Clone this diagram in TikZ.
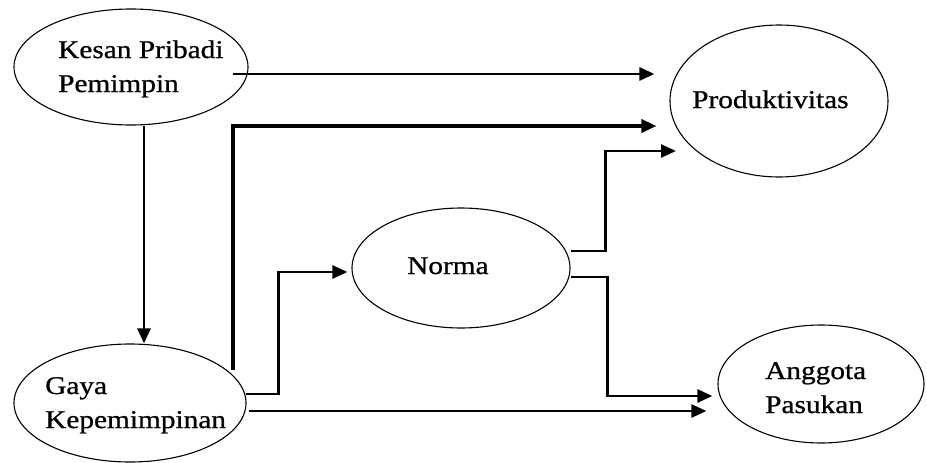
\documentclass[tikz,border=0pt]{standalone}
\usepackage{fontspec}
\setmainfont{Liberation Serif}[FakeStretch=1.15,FakeBold=0.8]
\usetikzlibrary{arrows.meta,shapes.geometric}
\begin{document}
\begin{tikzpicture}[x=1pt,y=-1pt,
  oval/.style={draw=black,line width=1.1pt,ellipse,inner sep=0pt},
  lbl/.style={inner sep=0pt,anchor=base west,align=left,font=\fontsize{25.5}{34}\selectfont},
  arr/.style={line width=2.6pt,-{Triangle[length=15pt,width=13pt]}},
  thickarr/.style={arr,line width=3.3pt}]
\useasboundingbox (0,0) rectangle (927,463);
% ellipses
\node[oval,minimum width=234pt,minimum height=116pt] (kesan) at (131,67) {};
\node[oval,minimum width=218pt,minimum height=152pt] (prod) at (779,101) {};
\node[oval,minimum width=218pt,minimum height=120pt] (norma) at (461,268) {};
\node[oval,minimum width=206pt,minimum height=118pt] (angg) at (821,384) {};
\node[oval,minimum width=232pt,minimum height=118pt] (gaya) at (130,403) {};
% texts (base anchor = last line's baseline)
\node[lbl] (kesant) at (58,92) {Kesan Pribadi\\Pemimpin};
\node[lbl] (prodt) at (692,108) {Produktivitas};
\node[lbl] (normat) at (407,274) {Norma};
\node[lbl] (anggt) at (765,413) {Anggota\\Pasukan};
\node[lbl] (gayat) at (45,428) {Gaya\\Kepemimpinan};
% connectors
\draw[arr] ([shift={(-16,7)}]kesan.east) coordinate (c1) -- ([xshift=-15pt]c1 -| prod.west);
\draw[arr] ([xshift=13pt]kesan.south) -- ([xshift=14pt]gaya.north);
\draw[thickarr] ([shift={(103,-33)}]gaya.center) |- ([shift={(-13,25)}]prod.west);
\draw[arr] ([shift={(-1,-9)}]gaya.east) -- ++(33,0) |- ([shift={(-4,4)}]norma.west);
\draw[arr] ([shift={(2,8)}]gaya.east) coordinate (c5) -- ([xshift=-11pt]c5 -| angg.west);
\draw[arr] ([shift={(0,-17)}]norma.east) -- ++(35,0) |- ([shift={(-103,50)}]prod.center);
\draw[arr] ([shift={(0,9)}]norma.east) -- ++(37,0) |- ([shift={(-5,12)}]angg.west);
\end{tikzpicture}
\end{document}
